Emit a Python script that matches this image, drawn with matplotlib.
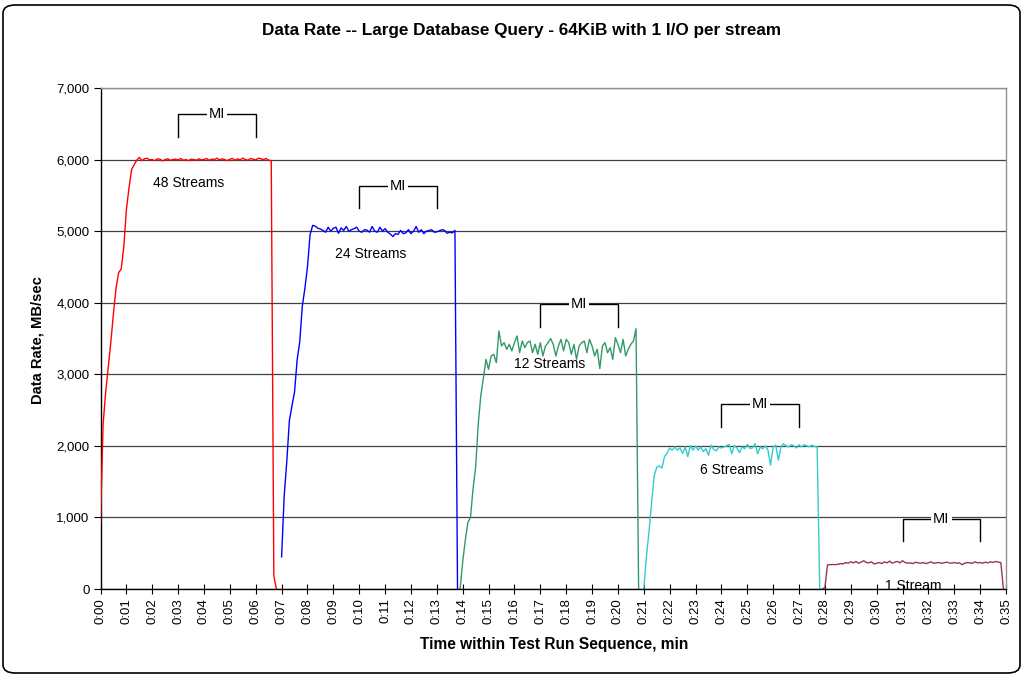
import numpy as np
import matplotlib
matplotlib.use("Agg")
import matplotlib.pyplot as plt
from matplotlib.patches import FancyBboxPatch

plt.rcParams['font.family'] = ['Liberation Sans', 'DejaVu Sans']

# ---------------- data ----------------
SAMPLE_STEP_MIN = 0.1   # sample interval, minutes

series_names = ["48 Streams", "24 Streams", "12 Streams", "6 Streams", "1 Stream"]
series_colors = ["#FF0000", "#0000FF", "#339966", "#33CCCC", "#993366"]
series_start = [0.0, 7.0, 13.9, 21.0, 27.9]

rate_48 = [900, 2300, 2750, 3100, 3450, 3850, 4200, 4420, 4470, 4780,
           5300, 5600, 5860, 5930, 5990, 6030, 5985, 6010, 6020, 5995,
           6000, 5985, 6010, 6005, 5980, 6000, 6010, 5990, 6000, 6005,
           5995, 6015, 5990, 6000, 5985, 6005, 6000, 5990, 6010, 5995,
           6000, 6015, 5990, 6005, 6000, 6020, 5995, 6010, 6000, 5985,
           6005, 6015, 5990, 6010, 5995, 6020, 6000, 5990, 6015, 6005,
           5995, 6020, 6010, 6000, 6015, 5990, 5985, 180, 0]

rate_24 = [450, 1300, 1780, 2350, 2560, 2750, 3200, 3450, 3950, 4200,
           4500, 4950, 5080, 5070, 5040,
           5030, 5010, 4985, 5055, 5000, 5040, 5055, 4970, 5045, 5010,
           5065, 5000, 5020, 5035, 5055, 5000, 4985, 5020, 5015, 4985,
           5065, 5000, 4985, 5055, 5000, 5035, 4985, 4960, 4925, 4965,
           4955, 5010, 4965, 4975, 5020, 4965, 5000, 5065, 4985, 5020,
           4965, 5000, 5010, 5020, 4985, 4990, 5005, 5020, 5010, 4970,
           4985, 4975, 5010, 0]

rate_12 = [0, 380, 680, 930, 1000, 1400, 1700, 2300, 2700, 2950,
           3209, 3070, 3256, 3279, 3163, 3605, 3395, 3442, 3349, 3419,
           3326, 3442, 3535, 3302, 3465, 3372, 3442, 3465, 3302, 3419,
           3279, 3442, 3256, 3395, 3442, 3498, 3419, 3256, 3395, 3488,
           3326, 3488, 3442, 3279, 3419, 3209, 3395, 3442, 3465, 3302,
           3488, 3395, 3256, 3349, 3079, 3395, 3442, 3302, 3372, 3209,
           3512, 3419, 3302, 3488, 3256, 3349, 3419, 3465, 3637, 0]

rate_6 = [0, 450, 800, 1200, 1580, 1700, 1720, 1690, 1850, 1900,
          1970, 1940, 1985, 1940, 1970, 1895, 1985, 1850, 2005, 1940,
          2000, 1940, 1985, 1920, 1960, 1870, 2010, 1950, 1930, 1985,
          1970, 1985, 2000, 2020, 1890, 2005, 1970, 1905, 1985, 1960,
          2020, 1965, 1970, 2030, 1890, 1985, 1960, 2000, 1940, 1730,
          1985, 2010, 1800, 1985, 2030, 2000, 1985, 2015, 2000, 1970,
          2015, 1985, 2015, 2000, 1985, 2010, 1990, 1985, 0]

rate_1 = [0, 20, 338, 340, 342, 340, 345, 355, 350, 370,
          360, 380, 365, 385, 360, 375, 395, 370, 365, 380,
          350, 360, 370, 355, 380, 365, 390, 360, 375, 385,
          365, 395, 370, 360, 365, 355, 375, 365, 360, 370,
          355, 365, 380, 360, 365, 370, 360, 365, 375, 365,
          360, 370, 360, 365, 340, 360, 370, 365, 360, 380,
          365, 370, 360, 375, 365, 380, 370, 385, 375, 370, 0]

series_rates = [rate_48, rate_24, rate_12, rate_6, rate_1]

# measurement-interval ("MI") brackets
mi_start = [3, 10, 17, 24, 31]
mi_end = [6, 13, 20, 27, 34]
mi_top = [6630, 5635, 3980, 2580, 980]
mi_drop = 315

# series label positions
label_x = [3.42, 10.43, 17.35, 24.39, 31.43]
label_y = [5668, 4681, 3144, 1663, 42]

y_ticks = [0, 1000, 2000, 3000, 4000, 5000, 6000, 7000]
y_tick_labels = ["0", "1,000", "2,000", "3,000", "4,000", "5,000", "6,000", "7,000"]
x_ticks = list(range(36))
x_tick_labels = ["0:00", "0:01", "0:02", "0:03", "0:04", "0:05", "0:06", "0:07", "0:08",
                 "0:09", "0:10", "0:11", "0:12", "0:13", "0:14", "0:15", "0:16", "0:17",
                 "0:18", "0:19", "0:20", "0:21", "0:22", "0:23", "0:24", "0:25", "0:26",
                 "0:27", "0:28", "0:29", "0:30", "0:31", "0:32", "0:33", "0:34", "0:35"]

# ---------------- figure ----------------
fig = plt.figure(figsize=(10.25, 6.77), dpi=100)
ax = fig.add_axes([100.5 / 1025, 1 - 589 / 677, (1006 - 100.5) / 1025, (589 - 88) / 677])

for start, rates, color in zip(series_start, series_rates, series_colors):
    t = start + SAMPLE_STEP_MIN * np.arange(len(rates))
    ax.plot(t, rates, color=color, lw=1.0, zorder=3)

ax.set_xlim(0, 35)
ax.set_ylim(0, 7000)
ax.set_yticks(y_ticks)
ax.set_yticklabels(y_tick_labels, fontsize=9.5)
ax.set_xticks(x_ticks)
ax.set_xticklabels(x_tick_labels, rotation=90, fontsize=9.5)
ax.tick_params(axis='y', direction='out', length=5, width=0.8, pad=3)
ax.tick_params(axis='x', direction='inout', length=7, width=0.8, pad=3)
ax.yaxis.grid(True, color='#404040', lw=0.9)
ax.set_axisbelow(True)

for side in ['top', 'right']:
    ax.spines[side].set_color('#909090')
    ax.spines[side].set_linewidth(1.0)
for side in ['left', 'bottom']:
    ax.spines[side].set_color('black')
    ax.spines[side].set_linewidth(1.0)
ax.spines['bottom'].set_zorder(4)

# MI brackets
for x0, x1, top in zip(mi_start, mi_end, mi_top):
    ax.plot([x0, x0, x1, x1], [top - mi_drop, top, top, top - mi_drop],
            color='black', lw=1.0, zorder=4, solid_joinstyle='miter')
    ax.text((x0 + x1) / 2, top, "MI", ha='center', va='center', fontsize=10.5,
            zorder=5, bbox=dict(facecolor='white', edgecolor='none', pad=1.5))

for name, lx, ly in zip(series_names, label_x, label_y):
    ax.text(lx, ly, name, ha='center', va='center', fontsize=10, zorder=5)

fig.text(522 / 1025, 1 - 31 / 677, "Data Rate -- Large Database Query - 64KiB with 1 I/O per stream",
         ha='center', va='center', fontsize=12.3, fontweight='bold')
fig.text(554 / 1025, 1 - 645 / 677, "Time within Test Run Sequence, min",
         ha='center', va='center', fontsize=11.2, fontweight='bold')
fig.text(38 / 1025, 1 - 340 / 677, "Data Rate, MB/sec", rotation=90,
         ha='center', va='center', fontsize=10.6, fontweight='bold')

frame = FancyBboxPatch((3 / 1025, 4 / 677), 1017 / 1025, 668 / 677,
                       boxstyle="round,pad=0,rounding_size=0.012",
                       transform=fig.transFigure, facecolor='none',
                       edgecolor='black', lw=1.2, zorder=10)
fig.patches.append(frame)

fig.savefig("out.png", dpi=100)
